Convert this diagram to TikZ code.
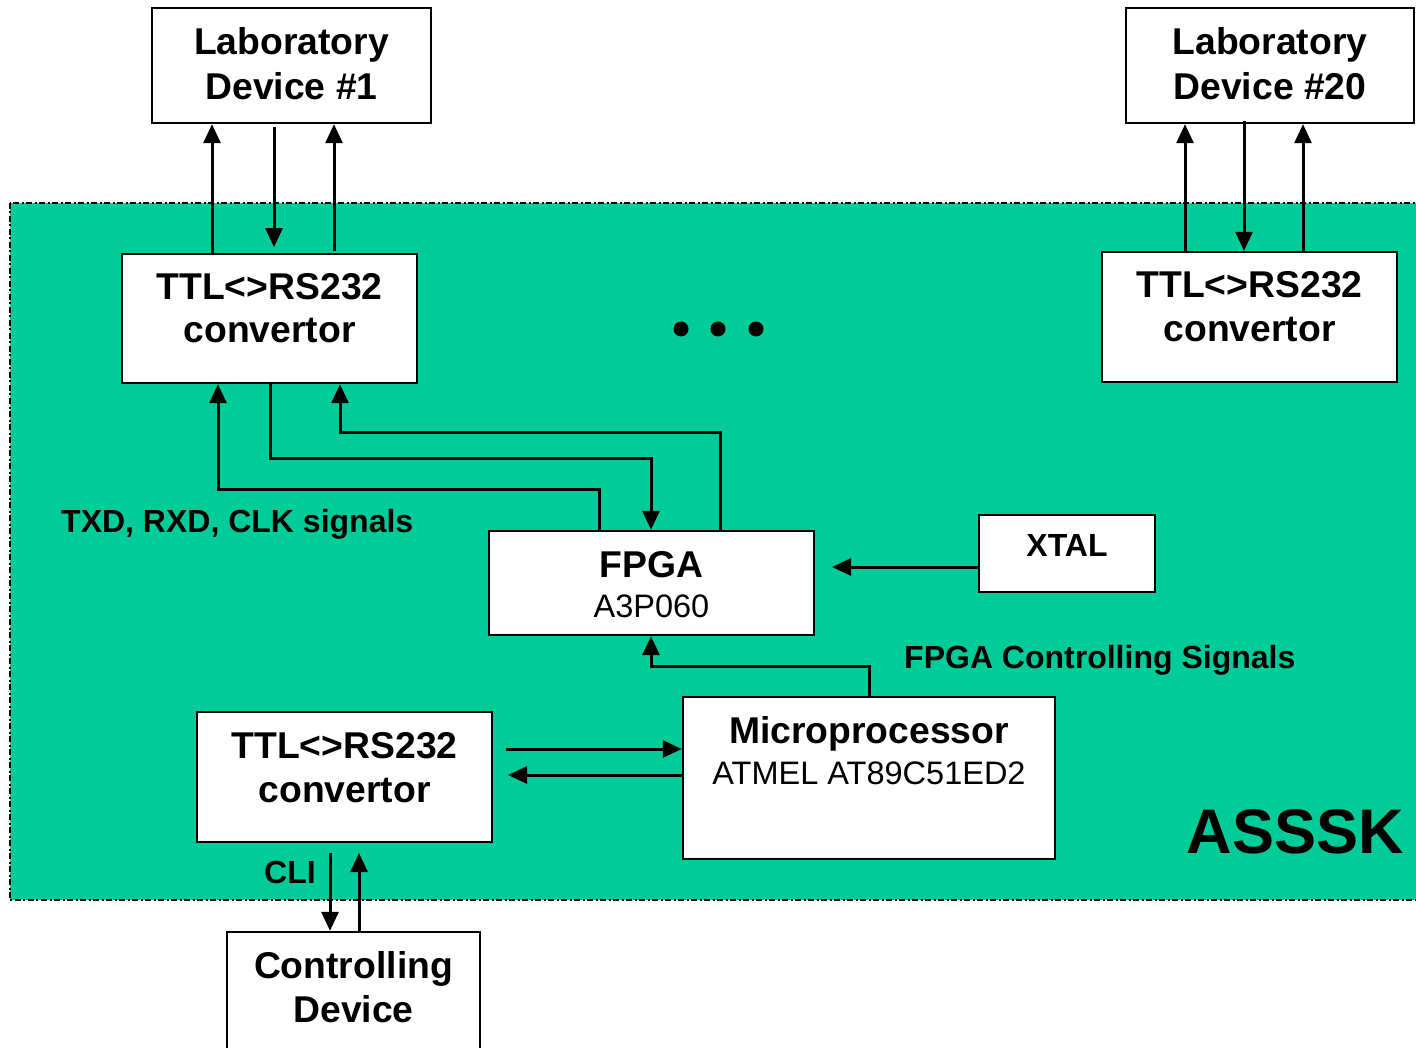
\documentclass[tikz,border=0pt]{standalone}
\usepackage{fontspec}
\setmainfont{Liberation Sans}
\usetikzlibrary{arrows.meta}
\definecolor{boardgreen}{HTML}{00CC99}
\tikzset{
  x=1pt, y=-1pt,
  box/.style={draw, fill=white, line width=2.4pt, inner sep=0pt},
  bigtxt/.style={anchor=base, inner sep=0pt, font=\fontsize{37.3}{44}\selectfont\bfseries},
  subtxt/.style={anchor=base, inner sep=0pt, font=\fontsize{32.5}{38}\selectfont},
  lbltxt/.style={anchor=base, inner sep=0pt, font=\fontsize{32}{38}\selectfont\bfseries},
  wire/.style={line width=3pt},
  arr/.style={wire, -{Triangle[length=19pt,width=17pt]}},
}
\begin{document}
\begin{tikzpicture}
\useasboundingbox (0,0) rectangle (1416,1048);
\clip (0,0) rectangle (1416,1048);

% board area
\draw[fill=boardgreen, line width=2.4pt, dash pattern=on 6pt off 2.5pt on 2pt off 2.5pt]
  (10,203) rectangle (1430,900);

% boxes
\node[box, minimum width=279, minimum height=115] (lab1) at (291.5,65.5) {};
\node[box, minimum width=288, minimum height=115] (lab20) at (1270,65.5) {};
\node[box, minimum width=295, minimum height=129] (conv1) at (269.5,318.5) {};
\node[box, minimum width=295, minimum height=130] (conv20) at (1249.5,317) {};
\node[box, minimum width=325, minimum height=104] (fpga) at (651.5,583) {};
\node[box, minimum width=176, minimum height=77] (xtal) at (1067,553.5) {};
\node[box, minimum width=372, minimum height=162] (mcu) at (869,778) {};
\node[box, minimum width=295, minimum height=130] (conv0) at (344.5,777) {};
\node[box, minimum width=253, minimum height=140] (ctrl) at (353.5,1002) {};

% box texts
\node[bigtxt] (lab1a) at (291.5,55) {Laboratory};
\node[bigtxt] (lab1b) at (291.5,100) {Device \#1};
\node[bigtxt] (lab20a) at (1270,55) {Laboratory};
\node[bigtxt] (lab20b) at (1270,100) {Device \#20};
\node[bigtxt] (conv1a) at (269.5,300) {TTL<>RS232};
\node[bigtxt] (conv1b) at (269.5,343) {convertor};
\node[bigtxt] (conv20a) at (1249.5,298) {TTL<>RS232};
\node[bigtxt] (conv20b) at (1249.5,342) {convertor};
\node[bigtxt] (conv0a) at (344.5,758) {TTL<>RS232};
\node[bigtxt] (conv0b) at (344.5,802) {convertor};
\node[bigtxt] (ctrla) at (353.5,978) {Controlling};
\node[bigtxt] (ctrlb) at (353.5,1022) {Device};
\node[bigtxt] (fpgaa) at (651.5,577) {FPGA};
\node[subtxt] (fpgab) at (651.5,617) {A3P060};
\node[lbltxt] (xtala) at (1067,556) {XTAL};
\node[bigtxt] (mcua) at (869,743) {Microprocessor};
\node[subtxt] (mcub) at (869,784) {ATMEL AT89C51ED2};

% free labels
\node[lbltxt, anchor=base west] (sigs) at (61,532) {TXD, RXD, CLK signals};
\node[lbltxt, anchor=base west] (fctl) at (904,668) {FPGA Controlling Signals};
\node[lbltxt, anchor=base west] (cli) at (264,883) {CLI};
\node[anchor=base east, inner sep=0pt, font=\fontsize{63}{70}\selectfont\bfseries] (board) at (1404,853) {ASSSK};

% ellipsis dots
\fill (681,329) circle (7.5) (718,329) circle (7.5) (756,329) circle (7.5);

% laboratory device #1 links
\draw[arr] (conv1.north -| 212,0) -- (lab1.south -| 212,0);
\draw[arr] (lab1.south -| 274,0) ++(0,3) -- ++(0,120);
\draw[arr] ([yshift=2pt]conv1.north -| 334,0) -- (lab1.south -| 334,0);

% laboratory device #20 links
\draw[arr] (conv20.north -| 1185,0) -- (lab20.south -| 1185,0);
\draw[arr] ([yshift=3pt]lab20.south -| 1244,0) -- (conv20.north -| 1244,0);
\draw[arr] (conv20.north -| 1303,0) -- (lab20.south -| 1303,0);

% converter <-> FPGA
\draw[arr] (fpga.north -| 599,0) -- (599,489) -- (218,489) -- (conv1.south -| 218,0);
\draw[arr] (conv1.south -| 270,0) -- (270,458) -- (651,458) -- (fpga.north -| 651,0);
\draw[arr] (fpga.north -| 720,0) -- (720,432) -- (340,432) -- (conv1.south -| 340,0);

% clock and controller to FPGA
\coordinate (xtalin) at (832,567);
\draw[arr] (xtal.west |- 0,567) -- (xtalin);
\draw[arr] (mcu.north -| 869,0) -- (869,666) -- (651,666) -- (fpga.south -| 651,0);

% microprocessor <-> converter
\coordinate (c0out) at (506,749);
\coordinate (c0in) at (508,775);
\draw[arr] (c0out) -- (mcu.west |- 0,749);
\draw[arr] (mcu.west |- 0,775) -- (c0in);

% CLI link
\coordinate (clitop) at (330,853);
\coordinate (clibot) at (359,853);
\draw[arr] (clitop) -- (ctrl.north -| 330,0);
\draw[arr] (ctrl.north -| 359,0) -- (clibot);
\end{tikzpicture}
\end{document}
